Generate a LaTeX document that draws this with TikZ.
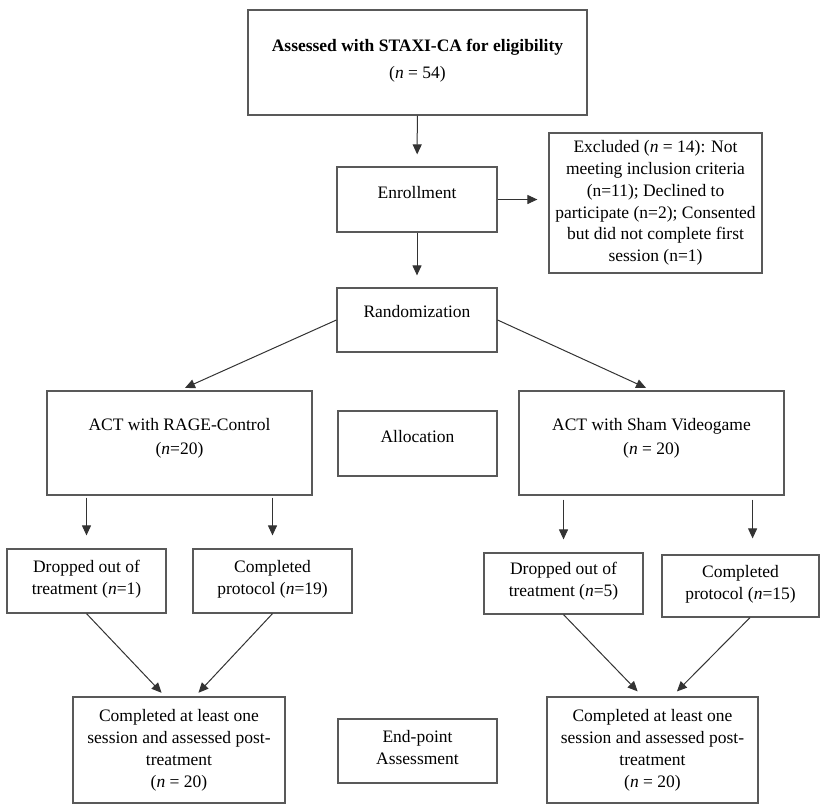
\documentclass[tikz,border=0pt]{standalone}
\usepackage{fontspec}
\setmainfont{Liberation Serif}
\usepackage{tikz}
\usetikzlibrary{arrows.meta}

\begin{document}
\begin{tikzpicture}[x=1pt, y=-1pt,
    box/.style={draw=black!65, line width=1.2pt, align=center, inner sep=2pt,
      font=\fontsize{17.5}{22}\selectfont},
    arr/.style={draw=black!80, line width=1pt, -{Triangle[length=10pt, width=9pt]}},
  ]
    \useasboundingbox (0,0) rectangle (829,807);
    \node[box, minimum width=339, minimum height=105, text depth=8] (assess) at (417.5,62.5)
      {\textbf{Assessed with STAXI-CA for eligibility}\\[5pt](\textit{n} = 54)};
    \node[box, minimum width=160, minimum height=65, text depth=15] (enroll) at (417,199.5) {Enrollment};
    \node[box, minimum width=213, minimum height=140, font=\fontsize{17.5}{21.7}\selectfont] (excl) at (655.5,203)
      {Excluded (\textit{n} = 14): Not\\meeting inclusion criteria\\(n=11); Declined to\\participate (n=2); Consented\\but did not complete first\\session (n=1)};
    \node[box, minimum width=160, minimum height=64, text depth=18] (random) at (417,320) {Randomization};
    \node[box, minimum width=265, minimum height=104, text depth=14] (rage) at (179.5,443)
      {ACT with RAGE-Control\\[2pt](\textit{n}=20)};
    \node[box, minimum width=159, minimum height=65, text depth=15] (alloc) at (417.5,443.5) {Allocation};
    \node[box, minimum width=265, minimum height=104, text depth=14] (sham) at (651.5,443)
      {ACT with Sham Videogame\\[2pt](\textit{n} = 20)};
    \node[box, minimum width=159, minimum height=64, text depth=8] (dropL) at (86.5,581) {Dropped out of\\treatment (\textit{n}=1)};
    \node[box, minimum width=159, minimum height=64, text depth=8] (compL) at (272.5,581) {Completed\\protocol (\textit{n}=19)};
    \node[box, minimum width=159, minimum height=61, text depth=8] (dropR) at (563.5,583.5) {Dropped out of\\treatment (\textit{n}=5)};
    \node[box, minimum width=157, minimum height=62, text depth=8] (compR) at (740.5,586) {Completed\\protocol (\textit{n}=15)};
    \node[box, minimum width=212, minimum height=106] (finL) at (179,750)
      {Completed at least one\\session and assessed post-\\treatment\\(\textit{n} = 20)};
    \node[box, minimum width=159, minimum height=64, text depth=8] (endpt) at (417.5,751) {End-point\\Assessment};
    \node[box, minimum width=211, minimum height=106] (finR) at (652.5,750)
      {Completed at least one\\session and assessed post-\\treatment\\(\textit{n} = 20)};
    \draw[arr, shorten >=12pt] (assess) -- (enroll);
    \draw[arr, shorten >=11pt] (enroll.east) -- (enroll.east -| excl.west);
    \draw[arr, shorten >=12pt] (enroll) -- (random);
    \draw[arr, shorten >=6pt] (random.west) -- (rage.north);
    \draw[arr, shorten >=6pt] (random.east) -- (sham.north);
    \draw[arr, shorten <=2pt, shorten >=13pt] (rage.south -| dropL) -- (dropL);
    \draw[arr, shorten <=2pt, shorten >=13pt] (rage.south -| compL) -- (compL);
    \draw[arr, shorten <=4pt, shorten >=13pt] (sham.south -| dropR) -- (dropR);
    \draw[arr, shorten <=4pt, shorten >=16pt] ([xshift=-32pt]sham.south east) -- ([xshift=-32pt]sham.south east |- compR.north);
    \draw[arr, shorten >=5pt] (dropL.south) -- ([xshift=-14pt]finL.north);
    \draw[arr, shorten >=5pt] (compL.south) -- ([xshift=16pt]finL.north);
    \draw[arr, shorten >=7pt] (dropR.south) -- ([xshift=-10pt]finR.north);
    \draw[arr, shorten >=7pt] ([xshift=9.5pt]compR.south) -- ([xshift=19.5pt]finR.north);
\end{tikzpicture}
\end{document}
